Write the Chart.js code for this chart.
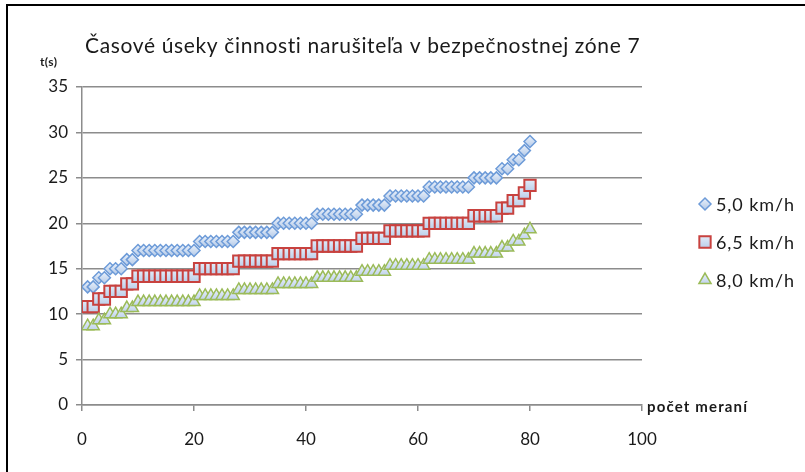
<!DOCTYPE html>
<html>
<head>
<meta charset="utf-8">
<script src="https://cdn.jsdelivr.net/npm/chart.js@4.4.1/dist/chart.umd.min.js"></script>
<style>
  html, body { margin: 0; padding: 0; background: #ffffff; }
  #wrap { width: 805px; height: 472px; position: relative; }
  canvas { display: block; }
</style>
</head>
<body>
<div id="wrap"><canvas id="c" width="805" height="472"></canvas></div>
<script>
// measurement index (počet meraní)
const measurements = [
  1, 2, 3, 4, 5, 6, 7, 8, 9, 10,
  11, 12, 13, 14, 15, 16, 17, 18, 19, 20,
  21, 22, 23, 24, 25, 26, 27, 28, 29, 30,
  31, 32, 33, 34, 35, 36, 37, 38, 39, 40,
  41, 42, 43, 44, 45, 46, 47, 48, 49, 50,
  51, 52, 53, 54, 55, 56, 57, 58, 59, 60,
  61, 62, 63, 64, 65, 66, 67, 68, 69, 70,
  71, 72, 73, 74, 75, 76, 77, 78, 79, 80
];

// time t(s) at 5,0 km/h
const speed50 = [
  13, 13, 14, 14, 15, 15, 15, 16, 16, 17,
  17, 17, 17, 17, 17, 17, 17, 17, 17, 17,
  18, 18, 18, 18, 18, 18, 18, 19, 19, 19,
  19, 19, 19, 19, 20, 20, 20, 20, 20, 20,
  20, 21, 21, 21, 21, 21, 21, 21, 21, 22,
  22, 22, 22, 22, 23, 23, 23, 23, 23, 23,
  23, 24, 24, 24, 24, 24, 24, 24, 24, 25,
  25, 25, 25, 25, 26, 26, 27, 27, 28, 29
];

// time t(s) at 6,5 km/h
const speed65 = [
  10.83, 10.83, 11.67, 11.67, 12.5, 12.5, 12.5, 13.33, 13.33, 14.17,
  14.17, 14.17, 14.17, 14.17, 14.17, 14.17, 14.17, 14.17, 14.17, 14.17,
  15, 15, 15, 15, 15, 15, 15, 15.83, 15.83, 15.83,
  15.83, 15.83, 15.83, 15.83, 16.67, 16.67, 16.67, 16.67, 16.67, 16.67,
  16.67, 17.5, 17.5, 17.5, 17.5, 17.5, 17.5, 17.5, 17.5, 18.33,
  18.33, 18.33, 18.33, 18.33, 19.17, 19.17, 19.17, 19.17, 19.17, 19.17,
  19.17, 20, 20, 20, 20, 20, 20, 20, 20, 20.83,
  20.83, 20.83, 20.83, 20.83, 21.67, 21.67, 22.5, 22.5, 23.33, 24.17
];

// time t(s) at 8,0 km/h
const speed80 = [
  8.67, 8.67, 9.33, 9.33, 10, 10, 10, 10.67, 10.67, 11.33,
  11.33, 11.33, 11.33, 11.33, 11.33, 11.33, 11.33, 11.33, 11.33, 11.33,
  12, 12, 12, 12, 12, 12, 12, 12.67, 12.67, 12.67,
  12.67, 12.67, 12.67, 12.67, 13.33, 13.33, 13.33, 13.33, 13.33, 13.33,
  13.33, 14, 14, 14, 14, 14, 14, 14, 14, 14.67,
  14.67, 14.67, 14.67, 14.67, 15.33, 15.33, 15.33, 15.33, 15.33, 15.33,
  15.33, 16, 16, 16, 16, 16, 16, 16, 16, 16.67,
  16.67, 16.67, 16.67, 16.67, 17.33, 17.33, 18, 18, 18.67, 19.33
];

const seriesNames = ['5,0 km/h', '6,5 km/h', '8,0 km/h'];
const titleText = 'Časové úseky činnosti narušiteľa v bezpečnostnej zóne 7';
const yAxisName = 't(s)';
const xAxisName = 'počet meraní';

const FONT = "Lato, 'Open Sans', 'Liberation Sans', sans-serif";
const gridColor = '#8c8c8c';
const textColor = '#1a1a1a';
const plainFill = '#c9dbf2';

function toPoints(values) {
  return values.map((v, i) => ({ x: measurements[i], y: v }));
}

// light-blue marker fill, brighter at the top of each marker
function markerGradient(ctx, cy, r) {
  const g = ctx.createLinearGradient(0, cy - r, 0, cy + r);
  g.addColorStop(0, '#eaf1fb');
  g.addColorStop(1, '#b3c9e7');
  return g;
}
function pointFill(context) {
  const chart = context.chart;
  const scale = chart.scales && chart.scales.y;
  if (context.type !== 'data' || !context.parsed || !scale) return plainFill;
  const cy = scale.getPixelForValue(context.parsed.y);
  const r = context.dataset.pointRadius;
  if (!Number.isFinite(cy) || !Number.isFinite(r)) return plainFill;
  return markerGradient(chart.ctx, cy, r);
}

// write text stretched by letter spacing to a target width
function fitText(ctx, text, x, y, width) {
  const natural = ctx.measureText(text).width;
  if ('letterSpacing' in ctx && text.length > 1) {
    ctx.letterSpacing = Math.max(0, (width - natural) / (text.length - 1)) + 'px';
  }
  ctx.fillText(text, x, y);
  if ('letterSpacing' in ctx) ctx.letterSpacing = '0px';
}

const datasets = [
  {
    label: seriesNames[0],
    data: toPoints(speed50),
    pointStyle: 'rectRot',
    pointRadius: 6,
    pointBorderWidth: 1.5,
    pointBorderColor: '#6d9bd8',
    pointBackgroundColor: pointFill,
    showLine: false,
    order: 3
  },
  {
    label: seriesNames[1],
    data: toPoints(speed65),
    pointStyle: 'rect',
    pointRadius: 8,
    pointBorderWidth: 2,
    pointBorderColor: '#c8423f',
    pointBackgroundColor: pointFill,
    showLine: false,
    order: 2
  },
  {
    label: seriesNames[2],
    data: toPoints(speed80),
    pointStyle: 'triangle',
    pointRadius: 7,
    pointBorderWidth: 1.5,
    pointBorderColor: '#9bbb59',
    pointBackgroundColor: pointFill,
    showLine: false,
    order: 1
  }
];

// titles, axis names, legend and frame drawn on top of the chart
const annotations = {
  id: 'annotations',
  afterDraw(chart) {
    const ctx = chart.ctx;
    ctx.save();

    // frame
    ctx.strokeStyle = '#000000';
    ctx.lineWidth = 2;
    ctx.beginPath();
    ctx.moveTo(7, 472);
    ctx.lineTo(7, 5);
    ctx.lineTo(805, 5);
    ctx.stroke();

    // title
    ctx.fillStyle = textColor;
    ctx.textBaseline = 'middle';
    ctx.textAlign = 'left';
    ctx.font = "21px " + FONT;
    fitText(ctx, titleText, 85, 46, 555);

    // axis names
    ctx.font = "bold 12px " + FONT;
    fitText(ctx, yAxisName, 40, 62, 17);
    ctx.font = "bold 15px " + FONT;
    fitText(ctx, xAxisName, 647, 407, 100);

    // legend
    const rows = [204, 242, 280];
    ctx.font = "18px " + FONT;
    chart.data.datasets.forEach((ds, i) => {
      const cy = rows[i];
      ctx.fillStyle = markerGradient(ctx, cy, ds.pointRadius);
      ctx.strokeStyle = ds.pointBorderColor;
      ctx.lineWidth = ds.pointBorderWidth;
      Chart.helpers.drawPoint(ctx, {
        pointStyle: ds.pointStyle,
        radius: ds.pointRadius,
        borderWidth: ds.pointBorderWidth,
        rotation: 0
      }, 705, cy);
      ctx.fillStyle = textColor;
      fitText(ctx, ds.label, 716, cy + 1, 78);
    });
    ctx.restore();
  }
};

new Chart(document.getElementById('c'), {
  type: 'scatter',
  data: { datasets },
  plugins: [annotations],
  options: {
    responsive: false,
    animation: false,
    devicePixelRatio: 1,
    layout: { padding: { left: 0, top: 87, right: 163, bottom: 0 } },
    plugins: {
      legend: { display: false },
      title: { display: false },
      tooltip: { enabled: false }
    },
    scales: {
      x: {
        type: 'linear',
        min: 0,
        max: 100,
        afterFit(scale) { scale.height = 67; },
        ticks: {
          stepSize: 20,
          padding: 18,
          color: textColor,
          font: { family: FONT, size: 17 }
        },
        grid: {
          drawOnChartArea: false,
          drawTicks: true,
          tickLength: 6,
          color: gridColor,
          lineWidth: 1.5
        },
        border: { color: gridColor, width: 1.5 }
      },
      y: {
        min: 0,
        max: 35,
        afterFit(scale) { scale.width = 82; },
        ticks: {
          stepSize: 5,
          padding: 8,
          color: textColor,
          font: { family: FONT, size: 17 }
        },
        grid: {
          drawOnChartArea: true,
          drawTicks: true,
          tickLength: 6,
          color: gridColor,
          lineWidth: 1.5
        },
        border: { color: gridColor, width: 1.5 }
      }
    }
  }
});
</script>
</body>
</html>
